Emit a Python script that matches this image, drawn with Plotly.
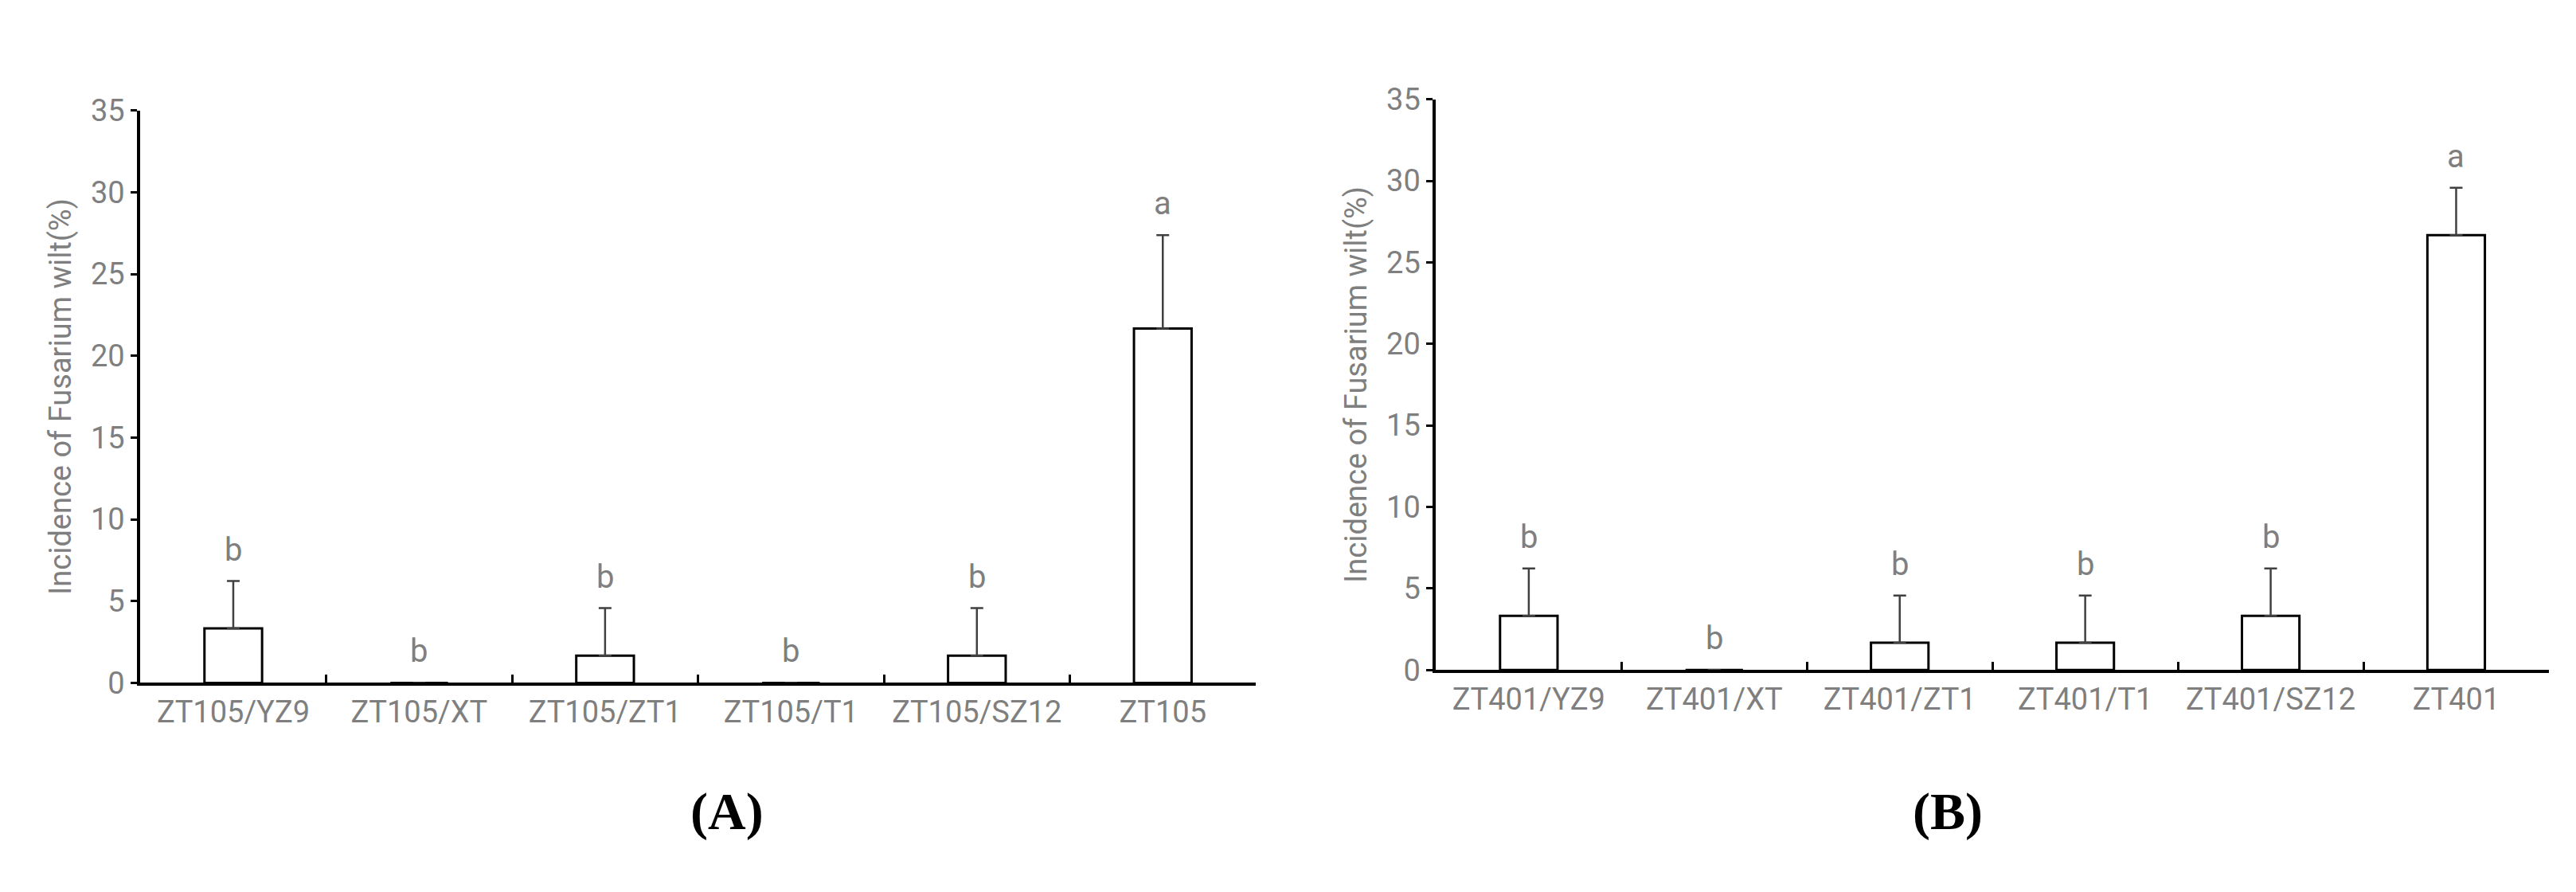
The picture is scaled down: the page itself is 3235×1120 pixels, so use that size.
import plotly.graph_objects as go

# data
cats_a = ["ZT105/YZ9", "ZT105/XT", "ZT105/ZT1", "ZT105/T1", "ZT105/SZ12", "ZT105"]
vals_a = [3.33, 0, 1.67, 0, 1.67, 21.67]
err_a = [2.9, 0, 2.9, 0, 2.9, 5.7]
let_a = ["b", "b", "b", "b", "b", "a"]

cats_b = ["ZT401/YZ9", "ZT401/XT", "ZT401/ZT1", "ZT401/T1", "ZT401/SZ12", "ZT401"]
vals_b = [3.33, 0, 1.67, 1.67, 3.33, 26.67]
err_b = [2.9, 0, 2.9, 2.9, 2.9, 2.9]
let_b = ["b", "b", "b", "b", "b", "a"]

panel_labels = ["(A)", "(B)"]

FONT = "Roboto, Noto Sans, sans-serif"
GRAY = "#7f7f7f"

fig = go.Figure()

panels = [(cats_a, vals_a, err_a, let_a, "x", "y"),
          (cats_b, vals_b, err_b, let_b, "x2", "y2")]

for cats, vals, errs, lets, xa, ya in panels:
    fig.add_trace(go.Bar(
        x=cats, y=vals, xaxis=xa, yaxis=ya, width=0.31,
        marker=dict(color="white", line=dict(color="black", width=3)),
        error_y=dict(type="data", symmetric=False, array=errs,
                     arrayminus=[0] * len(errs), color="#404040",
                     thickness=2.5, width=8),
        showlegend=False,
    ))
    for c, v, e, l in zip(cats, vals, errs, lets):
        fig.add_annotation(x=c, y=v + e, xref=xa, yref=ya, text=l,
                           showarrow=False, yanchor="bottom", yshift=14,
                           font=dict(family=FONT, size=40, color=GRAY))

xcommon = dict(showline=True, linecolor="black", linewidth=4,
               ticks="inside", tickson="boundaries", ticklen=10,
               tickwidth=3, tickcolor="black",
               tickfont=dict(family=FONT, size=38, color=GRAY),
               showgrid=False, fixedrange=True)
ycommon = dict(range=[0, 35], dtick=5, showline=True, linecolor="black",
               linewidth=4, ticks="outside", ticklen=8, tickwidth=3,
               tickcolor="black", showgrid=False, zeroline=False,
               tickfont=dict(family=FONT, size=38, color=GRAY),
               title=dict(text="Incidence of Fusarium wilt(%)",
                          font=dict(family=FONT, size=38, color=GRAY),
                          standoff=14))

fig.update_layout(
    width=3235, height=1120,
    margin=dict(l=0, r=0, t=0, b=0),
    plot_bgcolor="white", paper_bgcolor="white",
    xaxis=dict(domain=[0.052, 0.485], anchor="y", **xcommon),
    yaxis=dict(domain=[0.231, 0.899], anchor="x", **ycommon),
    xaxis2=dict(domain=[0.555, 0.987], anchor="y2", **xcommon),
    yaxis2=dict(domain=[0.246, 0.912], anchor="x2", **ycommon),
)

for lab, xpos in zip(panel_labels, [0.265, 0.768]):
    fig.add_annotation(x=xpos, y=0.045, xref="paper", yref="paper",
                       text="<b>" + lab + "</b>", showarrow=False,
                       font=dict(family="Liberation Serif, serif", size=66,
                                 color="black"))

fig.write_html("out.html")
